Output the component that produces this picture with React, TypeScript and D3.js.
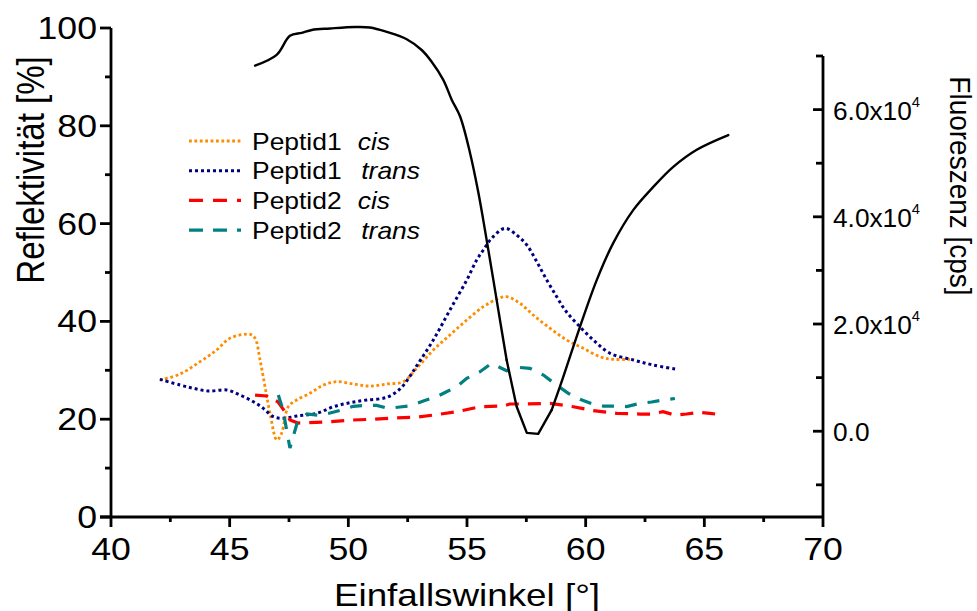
import React from "react";
import * as d3 from "d3";

// ---- data ----
const reflAngle = [46.07, 46.98, 47.54, 48.04, 48.46, 49.23, 50.28, 50.91, 51.62, 52.46, 53.09, 53.51, 54.0, 54.36, 54.71, 55.13, 55.48, 55.83, 56.11, 56.32, 56.67, 57.09, 57.52, 58.0, 58.57, 59.06, 59.76, 60.47, 61.16, 62.01, 62.85, 63.69, 64.68, 66.01];
const reflValue = [92.3, 94.5, 98.4, 99.0, 99.6, 99.9, 100.2, 100.1, 99.2, 97.7, 95.5, 93.1, 89.4, 85.3, 81.9, 74.4, 66.3, 56.6, 48.5, 42.3, 32.1, 22.6, 17.2, 17.0, 21.9, 28.7, 38.9, 48.5, 56.0, 62.8, 67.5, 71.6, 75.1, 78.1];

const p1cisAngle = [42.06, 42.91, 43.75, 44.45, 45.01, 45.86, 46.07, 46.28, 46.49, 46.7, 46.99, 47.19, 47.47, 47.82, 48.38, 48.95, 49.51, 50.21, 50.91, 51.62, 52.32, 52.88, 53.58, 54.28, 54.99, 55.69, 56.25, 56.67, 57.23, 57.79, 58.5, 59.2, 59.9, 60.6, 61.16, 61.87];
const p1cisValue = [9550, 10670, 12970, 15150, 17340, 18080, 17340, 13290, 8300, 3340, -1640, -340, 4570, 5820, 7070, 8620, 9240, 8810, 8430, 8810, 9240, 11740, 15150, 17950, 20750, 23230, 24610, 25100, 23870, 21680, 19200, 17020, 15470, 13900, 13420, 13420];

const p1transAngle = [42.06, 42.91, 43.47, 44.1, 44.88, 45.44, 46.0, 46.42, 46.84, 47.26, 47.82, 48.67, 49.37, 50.07, 50.77, 51.62, 52.18, 52.6, 52.88, 53.58, 54.28, 54.99, 55.41, 55.69, 56.04, 56.6, 57.09, 57.52, 57.94, 58.36, 58.78, 59.13, 59.62, 60.32, 61.03, 62.01, 62.85, 63.84];
const p1transValue = [9680, 8620, 8010, 7500, 7690, 6750, 5500, 4270, 2710, 2410, 2840, 3340, 4570, 5320, 5820, 6330, 7900, 10300, 12200, 17020, 22620, 28210, 31950, 33810, 36000, 37860, 36610, 34740, 31630, 28210, 25100, 22620, 20130, 17020, 14540, 13290, 12350, 11550];

const p2cisAngle = [46.07, 46.56, 47.03, 47.26, 47.54, 47.88, 48.31, 49.23, 50.2, 50.91, 51.89, 52.95, 53.58, 54.57, 55.54, 56.53, 56.8, 57.52, 58.5, 59.48, 60.32, 61.31, 62.29, 62.77, 63.26, 63.76, 64.25, 64.75, 65.24, 65.8];
const p2cisValue = [6750, 6570, 5500, 4080, 2090, 1530, 1590, 1770, 2090, 2220, 2460, 2650, 3020, 3640, 4570, 4700, 5080, 5080, 5210, 4570, 3830, 3340, 3210, 3210, 3640, 3020, 3210, 3530, 3340, 3020];

const p2transAngle = [47.05, 47.25, 47.4, 47.54, 47.84, 48.25, 48.73, 49.23, 49.72, 50.21, 50.7, 51.2, 51.68, 52.18, 52.67, 53.16, 53.72, 54.14, 54.57, 54.99, 55.55, 56.04, 56.32, 56.67, 57.16, 57.65, 58.22, 58.71, 59.27, 59.76, 60.25, 60.74, 61.24, 61.73, 62.29, 62.78, 63.27, 63.76];
const p2transValue = [6750, 3960, 220, -3130, 1500, 3210, 2970, 3400, 3960, 4650, 4800, 4830, 4270, 4520, 4800, 5640, 6440, 7370, 8300, 9870, 11100, 12670, 12040, 11290, 11920, 11740, 10490, 8810, 7070, 5950, 5170, 4700, 4700, 4610, 5210, 5450, 5820, 6100];

const xTicks = [40, 45, 50, 55, 60, 65, 70];
const xMinorTicks = [42.5, 47.5, 52.5, 57.5, 62.5, 67.5];
const yLeftTicks = [0, 20, 40, 60, 80, 100];
const yLeftMinor = [10, 30, 50, 70, 90];
const yRightTicks = [0, 20000, 40000, 60000];
const yRightLabels = ["0.0", "2.0x10", "4.0x10", "6.0x10"];
const yRightMinor = [-10000, 10000, 30000, 50000, 70000];

const legendNames = ["Peptid1", "Peptid1", "Peptid2", "Peptid2"];
const legendSuffix = ["cis", "trans", "cis", "trans"];

const FONT = "'Liberation Sans', Arial, Helvetica, sans-serif";
const SX = 1.15;

const x = d3.scaleLinear().domain([40, 70]).range([111, 823]);
const yL = d3.scaleLinear().domain([0, 100]).range([517, 28]);
const yR = d3.scaleLinear().domain([-16000, 70000]).range([517, 56]);

const toPts = (a: number[], v: number[]) => a.map((d, i) => [d, v[i]] as [number, number]);

const lineLsmooth = d3.line<[number, number]>().x(d => x(d[0])).y(d => yL(d[1])).curve(d3.curveCatmullRom.alpha(0.5));
const lineLlin = d3.line<[number, number]>().x(d => x(d[0])).y(d => yL(d[1]));
const lineRsmooth = d3.line<[number, number]>().x(d => x(d[0])).y(d => yR(d[1])).curve(d3.curveCatmullRom.alpha(0.5));
const lineRlin = d3.line<[number, number]>().x(d => x(d[0])).y(d => yR(d[1]));

// reflectivity: smooth arcs, straight V-bottom of the resonance dip
const reflPts = toPts(reflAngle, reflValue);
const iA = reflAngle.indexOf(56.67);
const iB = reflAngle.indexOf(58.0);
const reflPaths = [
  lineLsmooth(reflPts.slice(0, iA + 1)),
  lineLlin(reflPts.slice(iA, iB + 2)),
  lineLsmooth(reflPts.slice(iB + 1)),
];

const series = [
  { d: lineRsmooth(toPts(p1cisAngle, p1cisValue)), color: "#FF8C00", dash: "2.8,2.6", w: 2.8 },
  { d: lineRsmooth(toPts(p1transAngle, p1transValue)), color: "#000080", dash: "3,3", w: 3 },
  { d: lineRlin(toPts(p2cisAngle, p2cisValue)), color: "#FF0000", dash: "13,9", w: 3.2 },
  { d: lineRlin(toPts(p2transAngle, p2transValue)), color: "#008080", dash: "12,11", w: 3.2 },
];

function SText(props: { x: number; y: number; size: number; anchor?: string; rotate?: number; sx?: number; children: React.ReactNode }) {
  const { x: tx, y: ty, size, anchor = "start", rotate = 0, sx = SX, children } = props;
  return (
    <text
      transform={`translate(${tx},${ty}) scale(${sx},1) rotate(${rotate})`}
      fontFamily={FONT}
      fontSize={size}
      textAnchor={anchor}
      fill="#000"
    >
      {children}
    </text>
  );
}

export default function App() {
  const axisW = 2.8;
  return (
    <svg width={977} height={611} style={{ position: "absolute", left: 0, top: 0, background: "#fff" }}>
      {/* data lines */}
      {series.map((s, i) => (
        <path key={i} d={s.d || ""} fill="none" stroke={s.color} strokeWidth={s.w} strokeDasharray={s.dash} />
      ))}
      {reflPaths.map((p, i) => (
        <path key={i} d={p || ""} fill="none" stroke="#000" strokeWidth={2.4} strokeLinejoin="round" strokeLinecap="round" />
      ))}

      {/* left axis */}
      <line x1={x(40)} x2={x(40)} y1={yL(100)} y2={yL(0)} stroke="#000" strokeWidth={axisW} />
      {yLeftTicks.map(t => (
        <g key={t}>
          <line x1={x(40) - 11} x2={x(40)} y1={yL(t)} y2={yL(t)} stroke="#000" strokeWidth={axisW} />
          <SText x={x(40) - 14} y={yL(t) + 11} size={31} anchor="end">{t}</SText>
        </g>
      ))}
      {yLeftMinor.map(t => (
        <line key={t} x1={x(40) - 6} x2={x(40)} y1={yL(t)} y2={yL(t)} stroke="#000" strokeWidth={axisW} />
      ))}

      {/* bottom axis */}
      <line x1={x(40) - 11} x2={x(70)} y1={yL(0)} y2={yL(0)} stroke="#000" strokeWidth={axisW} />
      {xTicks.map(t => (
        <g key={t}>
          <line x1={x(t)} x2={x(t)} y1={yL(0)} y2={yL(0) + 10} stroke="#000" strokeWidth={axisW} />
          <SText x={x(t)} y={560} size={31} anchor="middle">{t}</SText>
        </g>
      ))}
      {xMinorTicks.map(t => (
        <line key={t} x1={x(t)} x2={x(t)} y1={yL(0)} y2={yL(0) + 5} stroke="#000" strokeWidth={axisW} />
      ))}

      {/* right axis */}
      <line x1={x(70)} x2={x(70)} y1={yR(70000)} y2={yL(0)} stroke="#000" strokeWidth={axisW} />
      {yRightTicks.map((t, i) => (
        <g key={t}>
          <line x1={x(70) - 10} x2={x(70)} y1={yR(t)} y2={yR(t)} stroke="#000" strokeWidth={axisW} />
          <SText x={x(70) + 10} y={yR(t) + 10} size={25} sx={1.05}>
            {yRightLabels[i]}
            {i > 0 ? <tspan fontSize={14} dy={-13}>4</tspan> : null}
          </SText>
        </g>
      ))}
      {yRightMinor.map(t => (
        <line key={t} x1={x(70) - 7} x2={x(70)} y1={yR(t)} y2={yR(t)} stroke="#000" strokeWidth={axisW} />
      ))}

      {/* axis titles */}
      <SText x={467} y={606} size={32} anchor="middle">Einfallswinkel [°]</SText>
      <SText x={44} y={170} size={33} anchor="middle" rotate={-90}>Reflektivität [%]</SText>
      <SText x={950} y={186} size={28} anchor="middle" rotate={90} sx={1.05}>Fluoreszenz [cps]</SText>

      {/* legend */}
      {series.map((s, i) => {
        const ly = 141 + i * 29.7;
        return (
          <g key={i}>
            <line x1={189} x2={241} y1={ly} y2={ly} stroke={s.color} strokeWidth={s.w} strokeDasharray={i < 2 ? s.dash : "14,10"} />
            <text transform={`translate(252,${ly + 8.5}) scale(${SX},1)`} fontFamily={FONT} fontSize={23} fill="#000">
              <tspan x={0}>{legendNames[i]}</tspan>
              <tspan x={legendSuffix[i] === "cis" ? 92 : 95} fontStyle="italic">{legendSuffix[i]}</tspan>
            </text>
          </g>
        );
      })}
    </svg>
  );
}
